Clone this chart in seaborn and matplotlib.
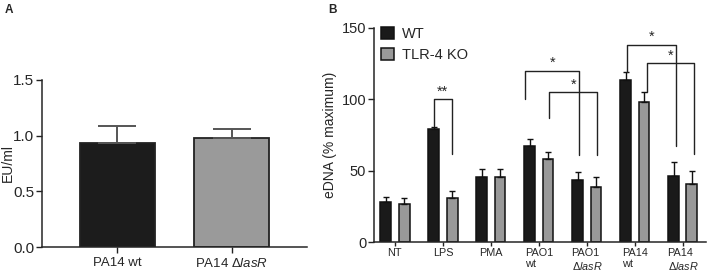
import matplotlib
matplotlib.use("Agg")
import matplotlib.pyplot as plt
import numpy as np
import pandas as pd
import seaborn as sns

# panel A
strains_a = ['PA14 wt', 'PA14 $\\Delta\\mathit{lasR}$']
eu_mean = [0.93, 0.98]
eu_err = [0.16, 0.08]

# panel B
groups = ['NT', 'LPS', 'PMA', 'PAO1\nwt', 'PAO1\n$\\Delta\\mathit{lasR}$',
          'PA14\nwt', 'PA14\n$\\Delta\\mathit{lasR}$']
genotypes = ['WT', 'TLR-4 KO']
wt_mean = [27.9, 79, 45.6, 67.5, 43.5, 113.2, 46.3]
wt_err = [3.5, 1.8, 5.2, 4.7, 5.2, 6.0, 9.8]
ko_mean = [26.8, 30.7, 45.2, 58, 38.4, 97.8, 40.8]
ko_err = [3.7, 5.2, 5.8, 5.3, 6.8, 7.5, 9.2]

# significance brackets: (group, hue, y start) -> (group, hue, y end), top, label, x nudges
brackets = [
    (1, 0, 81, 1, 1, 61.5, 100, '**', 0.0, 0.0),
    (3, 0, 100, 4, 0, 61, 120, '*', -0.09, 0.03),
    (3, 1, 86.5, 4, 1, 61, 105, '*', 0.03, 0.03),
    (5, 0, 119, 6, 0, 67, 138, '*', 0.02, 0.05),
    (5, 1, 105, 6, 1, 61.5, 125, '*', 0.07, 0.04),
]

sns.set_style("ticks")
plt.rcParams['font.family'] = ['Liberation Sans', 'DejaVu Sans']
plt.rcParams['mathtext.fontset'] = 'custom'
plt.rcParams['mathtext.rm'] = 'Liberation Sans'
plt.rcParams['mathtext.it'] = 'Liberation Sans:italic'
plt.rcParams['axes.linewidth'] = 1.1
plt.rcParams['xtick.major.width'] = 1.0
plt.rcParams['ytick.major.width'] = 1.0

fig = plt.figure(figsize=(7.08, 2.72), dpi=100)
ax1 = fig.add_axes([0.0593, 0.0919, 0.3743, 0.614])
ax2 = fig.add_axes([0.528, 0.110, 0.469, 0.788])

# ---- A ----
sns.barplot(x=strains_a, y=eu_mean, hue=strains_a, palette=['#1c1c1c', '#9a9a9a'],
            width=0.66, edgecolor='#222222', linewidth=1.3, legend=False, ax=ax1)
for p, e in zip(ax1.patches, eu_err):
    xc = p.get_x() + p.get_width() / 2
    ax1.errorbar(xc, p.get_height(), yerr=[[0], [e]], color='#555555', lw=1.4,
                 capsize=14, capthick=1.4, zorder=1)
ax1.set_ylim(0, 1.5)
ax1.set_xlim(-0.66, 1.66)
ax1.set_yticks([0, 0.5, 1.0, 1.5])
ax1.set_yticklabels(['0.0', '0.5', '1.0', '1.5'])
ax1.set_ylabel('EU/ml', fontsize=10)
ax1.yaxis.set_label_coords(-0.102, 0.5)
ax1.set_xlabel('')
ax1.tick_params(axis='y', labelsize=11, length=4, color='#222222', pad=1.5)
ax1.tick_params(axis='x', labelsize=9.5, length=4, color='#222222')
sns.despine(ax=ax1)

# ---- B ----
df = pd.DataFrame({
    'group': groups * 2,
    'genotype': [genotypes[0]] * len(groups) + [genotypes[1]] * len(groups),
    'value': wt_mean + ko_mean,
})
sns.barplot(data=df, x='group', y='value', hue='genotype', hue_order=genotypes,
            palette={'WT': '#1a1a1a', 'TLR-4 KO': '#999999'}, width=0.76, gap=0.4,
            edgecolor='#111111', linewidth=1.1, errorbar=None, ax=ax2)

centers = []
for cont, errs in zip(ax2.containers, [wt_err, ko_err]):
    xs = []
    for p, e in zip(cont.patches, errs):
        xc = p.get_x() + p.get_width() / 2
        xs.append(xc)
        ax2.errorbar(xc, p.get_height(), yerr=[[0], [e]], color='#111111', lw=1.0,
                     capsize=2, capthick=1.0, zorder=1)
    centers.append(xs)

for g1, h1, y1, g2, h2, y2, top, lab, dx1, dx2 in brackets:
    xa = centers[h1][g1] + dx1
    xb = centers[h2][g2] + dx2
    ax2.plot([xa, xa, xb, xb], [y1, top, top, y2], color='#222222', lw=1.0)
    ax2.text((xa + xb) / 2, top + 0.5, lab, ha='center', va='bottom', fontsize=10.5)

ax2.set_ylim(0, 150)
ax2.set_xlim(-0.44, 6.48)
ax2.set_yticks([0, 50, 100, 150])
ax2.set_ylabel('eDNA (% maximum)', fontsize=10)
ax2.yaxis.set_label_coords(-0.111, 0.5)
ax2.set_xlabel('')
ax2.tick_params(axis='y', labelsize=10.5, length=4, color='#222222', pad=1.5)
ax2.tick_params(axis='x', labelsize=7.8, length=3, color='#222222', pad=1.5)
for t in ax2.get_xticklabels():
    t.set_multialignment('left')
    t.set_linespacing(1.12)
sns.despine(ax=ax2)
sns.move_legend(ax2, 'upper left', bbox_to_anchor=(0.005, 1.03), frameon=False, title=None,
                fontsize=10.5, handlelength=0.9, handleheight=0.9, handletextpad=0.5,
                labelspacing=0.45, borderaxespad=0)

fig.text(0.006, 0.985, 'A', fontsize=8.5, fontweight='bold', va='top')
fig.text(0.463, 0.985, 'B', fontsize=8.5, fontweight='bold', va='top')

fig.savefig('out.png', dpi=100)
